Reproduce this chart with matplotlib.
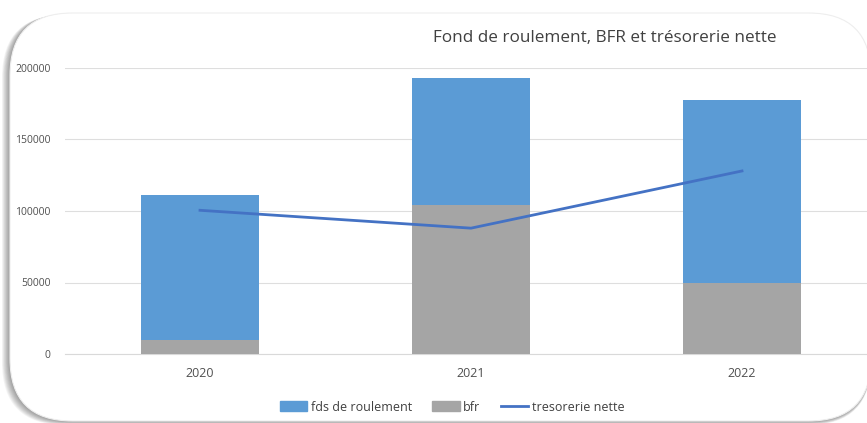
import matplotlib.pyplot as plt
from matplotlib.patches import FancyBboxPatch
from matplotlib.lines import Line2D
from matplotlib.patches import Patch
import numpy as np

annees = ["2020", "2021", "2022"]
fds_roulement = [111000, 193000, 177500]
bfr = [9500, 104500, 49500]
tresorerie = [100500, 88000, 128000]

W, H = 867, 423
fig = plt.figure(figsize=(W / 100, H / 100), dpi=100)
fig.patch.set_facecolor("white")

# cadre arrondi avec ombre (coordonnees en pixels -> fraction de figure)
def box(x0, y0, x1, y1, **kw):
    p = FancyBboxPatch((x0 / W, 1 - y1 / H), (x1 - x0) / W, (y1 - y0) / H,
                       boxstyle="round,pad=0,rounding_size=0.072",
                       transform=fig.transFigure, mutation_aspect=W / H,
                       zorder=-10, **kw)
    fig.patches.append(p)

for i in range(10, 0, -1):
    box(10 - i * 0.8, 13 + i * 0.2, 871, 421 + i * 0.4, facecolor="#000000",
        edgecolor="none", alpha=0.045)
box(10, 13, 871, 421, facecolor="white", edgecolor="#eeeeee", linewidth=0.8)

ax = fig.add_axes([64.5 / W, 69 / H, 813 / W, 286 / H])
ax.set_facecolor("none")
ax.set_zorder(5)

x = np.arange(len(annees))
ax.bar(x, fds_roulement, width=0.435, color="#5B9BD5", zorder=2)
ax.bar(x, bfr, width=0.435, color="#A5A5A5", zorder=3)
ax.plot(x, tresorerie, color="#4472C4", linewidth=2, zorder=4)

ax.set_xlim(-0.5, 2.5)
ax.set_ylim(0, 200000)
ax.set_yticks([0, 50000, 100000, 150000, 200000])
ax.set_yticklabels(["0", "50000", "100000", "150000", "200000"])
ax.set_xticks(x)
ax.set_xticklabels(annees)
ax.grid(axis="y", color="#dedede", linewidth=0.8, zorder=0)
for s in ["top", "right", "left"]:
    ax.spines[s].set_visible(False)
ax.spines["bottom"].set_color("#d9d9d9")
ax.tick_params(axis="y", length=0, pad=10, labelsize=7.5, labelcolor="#505050")
ax.tick_params(axis="x", length=0, pad=9, labelsize=9, labelcolor="#505050")
for t in ax.get_yticklabels() + ax.get_xticklabels():
    t.set_fontfamily("Open Sans")

fig.text(605 / W, 1 - 38 / H, "Fond de roulement, BFR et trésorerie nette",
         ha="center", va="center", fontsize=12.3, color="#404040",
         family="Open Sans")

handles = [Patch(color="#5B9BD5", label="fds de roulement"),
           Patch(color="#A5A5A5", label="bfr"),
           Line2D([0], [0], color="#4472C4", linewidth=2, label="tresorerie nette")]
fig.legend(handles=handles, loc="center", bbox_to_anchor=(452 / W, 1 - 407 / H),
           ncol=3, frameon=False, handlelength=2.2, handleheight=0.9,
           handletextpad=0.3, columnspacing=1.6,
           prop={"family": "Open Sans", "size": 9}, labelcolor="#404040")

fig.savefig("out.png", dpi=100)
